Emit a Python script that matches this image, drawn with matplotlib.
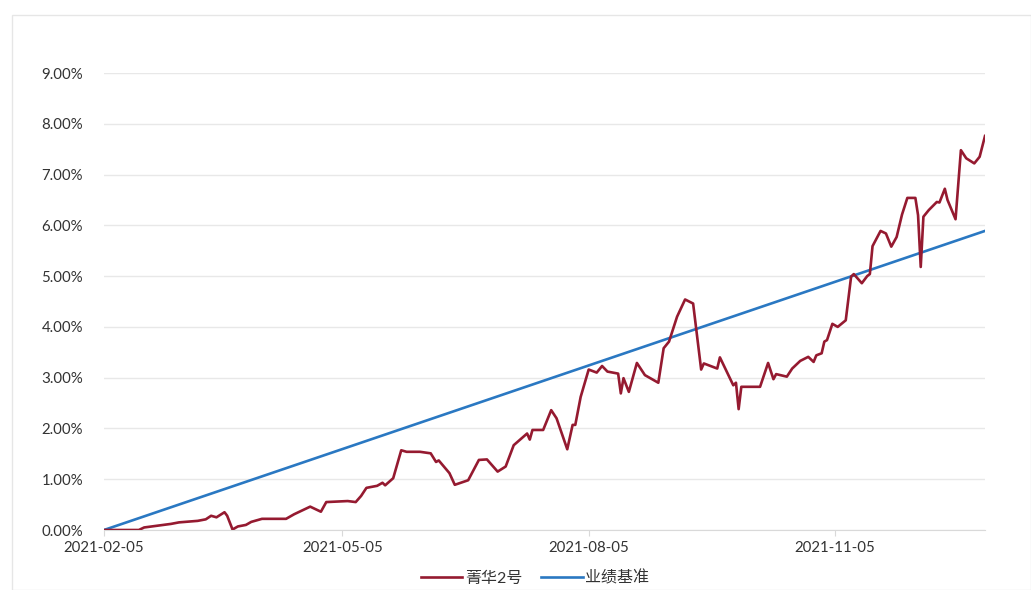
import matplotlib
matplotlib.use("Agg")
import matplotlib.pyplot as plt
import pandas as pd
from matplotlib.patches import Rectangle

plt.rcParams['font.family'] = ['Lato', 'Noto Sans CJK SC', 'DejaVu Sans']

fund_name = "菁华2号"
bench_name = "业绩基准"

fund_dates = [
    "2021-02-05", "2021-02-18", "2021-02-20", "2021-03-02", "2021-03-05", "2021-03-12",
    "2021-03-15", "2021-03-17", "2021-03-19", "2021-03-22", "2021-03-23", "2021-03-25",
    "2021-03-27", "2021-03-30", "2021-04-01", "2021-04-05", "2021-04-14", "2021-04-17",
    "2021-04-23", "2021-04-27", "2021-04-29", "2021-05-07", "2021-05-10", "2021-05-12",
    "2021-05-14", "2021-05-18", "2021-05-20", "2021-05-21", "2021-05-24", "2021-05-27",
    "2021-05-29", "2021-06-03", "2021-06-07", "2021-06-09", "2021-06-10", "2021-06-14",
    "2021-06-16", "2021-06-21", "2021-06-25", "2021-06-28", "2021-07-02", "2021-07-05",
    "2021-07-08", "2021-07-13", "2021-07-14", "2021-07-15", "2021-07-19", "2021-07-22",
    "2021-07-24", "2021-07-28", "2021-07-30", "2021-07-31", "2021-08-02", "2021-08-05",
    "2021-08-08", "2021-08-10", "2021-08-12", "2021-08-16", "2021-08-17", "2021-08-18",
    "2021-08-20", "2021-08-23", "2021-08-26", "2021-08-31", "2021-09-02", "2021-09-04",
    "2021-09-07", "2021-09-10", "2021-09-13", "2021-09-16", "2021-09-17", "2021-09-22",
    "2021-09-23", "2021-09-28", "2021-09-29", "2021-09-30", "2021-10-01", "2021-10-08",
    "2021-10-11", "2021-10-13", "2021-10-14", "2021-10-18", "2021-10-20", "2021-10-23",
    "2021-10-26", "2021-10-28", "2021-10-29", "2021-10-31", "2021-11-01", "2021-11-02",
    "2021-11-04", "2021-11-06", "2021-11-09", "2021-11-11", "2021-11-12", "2021-11-15",
    "2021-11-17", "2021-11-18", "2021-11-19", "2021-11-22", "2021-11-24", "2021-11-26",
    "2021-11-28", "2021-11-30", "2021-12-02", "2021-12-05", "2021-12-06", "2021-12-07",
    "2021-12-08", "2021-12-10", "2021-12-13", "2021-12-14", "2021-12-16", "2021-12-17",
    "2021-12-20", "2021-12-22", "2021-12-24", "2021-12-27", "2021-12-29", "2021-12-31",
]
fund_values = [
    0.00, 0.00, 0.05, 0.12, 0.15, 0.18,
    0.21, 0.28, 0.25, 0.35, 0.28, 0.01,
    0.07, 0.10, 0.16, 0.22, 0.22, 0.31,
    0.46, 0.36, 0.55, 0.57, 0.55, 0.67,
    0.83, 0.87, 0.93, 0.88, 1.02, 1.57,
    1.54, 1.54, 1.51, 1.34, 1.37, 1.12,
    0.89, 0.98, 1.38, 1.39, 1.15, 1.25,
    1.67, 1.90, 1.78, 1.97, 1.97, 2.36,
    2.20, 1.59, 2.07, 2.07, 2.62, 3.16,
    3.10, 3.23, 3.12, 3.08, 2.69, 2.99,
    2.72, 3.29, 3.05, 2.90, 3.58, 3.71,
    4.20, 4.54, 4.46, 3.16, 3.28, 3.18,
    3.40, 2.85, 2.90, 2.38, 2.82, 2.82,
    3.29, 2.97, 3.07, 3.02, 3.18, 3.33,
    3.41, 3.31, 3.44, 3.48, 3.71, 3.74,
    4.06, 4.00, 4.13, 4.99, 5.04, 4.86,
    5.00, 5.04, 5.59, 5.89, 5.84, 5.58,
    5.77, 6.21, 6.54, 6.54, 6.20, 5.18,
    6.17, 6.30, 6.46, 6.45, 6.72, 6.50,
    6.12, 7.48, 7.32, 7.22, 7.35, 7.76,
]

bench_dates = ["2021-02-05", "2021-12-31"]
bench_values = [0.00, 5.89]

x_tick_labels = ["2021-02-05", "2021-05-05", "2021-08-05", "2021-11-05"]
y_ticks = [0, 1, 2, 3, 4, 5, 6, 7, 8, 9]

fig = plt.figure(figsize=(10.31, 5.90), dpi=100)
fig.patches.append(Rectangle((12 / 1031, 0), 1 - 12 / 1031, 1 - 15 / 590,
                             transform=fig.transFigure, fill=False,
                             edgecolor="#e6e6e6", linewidth=1.0))
ax = fig.add_axes([104 / 1031, 1 - 530 / 590, (985 - 104) / 1031, (530 - 73) / 590])

fd = pd.to_datetime(fund_dates)
bd = pd.to_datetime(bench_dates)
ax.plot(bd, bench_values, color="#2a78c2", linewidth=1.9, label=bench_name, zorder=3)
ax.plot(fd, fund_values, color="#951a30", linewidth=1.9, label=fund_name, zorder=4)

ax.set_xlim(pd.Timestamp("2021-02-05"), pd.Timestamp("2021-12-31"))
ax.set_ylim(0, 9)
ax.set_yticks(y_ticks)
ax.set_yticklabels([f"{v:.2f}%" for v in y_ticks])
ax.set_xticks(pd.to_datetime(x_tick_labels))
ax.set_xticklabels(x_tick_labels)

ax.grid(axis="y", color="#e8e8e8", linewidth=1.0)
ax.set_axisbelow(True)
for s in ["top", "right", "left"]:
    ax.spines[s].set_visible(False)
ax.spines["bottom"].set_color("#d9d9d9")
ax.tick_params(axis="y", length=0, pad=15, labelsize=10.8, labelcolor="#333333")
ax.tick_params(axis="x", length=4, color="#d9d9d9", pad=4, labelsize=10.8, labelcolor="#333333")

handles, labels = ax.get_legend_handles_labels()
order = [1, 0]
leg = fig.legend([handles[i] for i in order], [labels[i] for i in order],
                 loc="center", bbox_to_anchor=(535 / 1031, 1 - 578 / 590), ncol=2,
                 frameon=False, fontsize=11.5, handlelength=2.6, handletextpad=0.15,
                 columnspacing=1.2)
for t in leg.get_texts():
    t.set_color("#333333")

fig.savefig("out.png", dpi=100, facecolor="white")
